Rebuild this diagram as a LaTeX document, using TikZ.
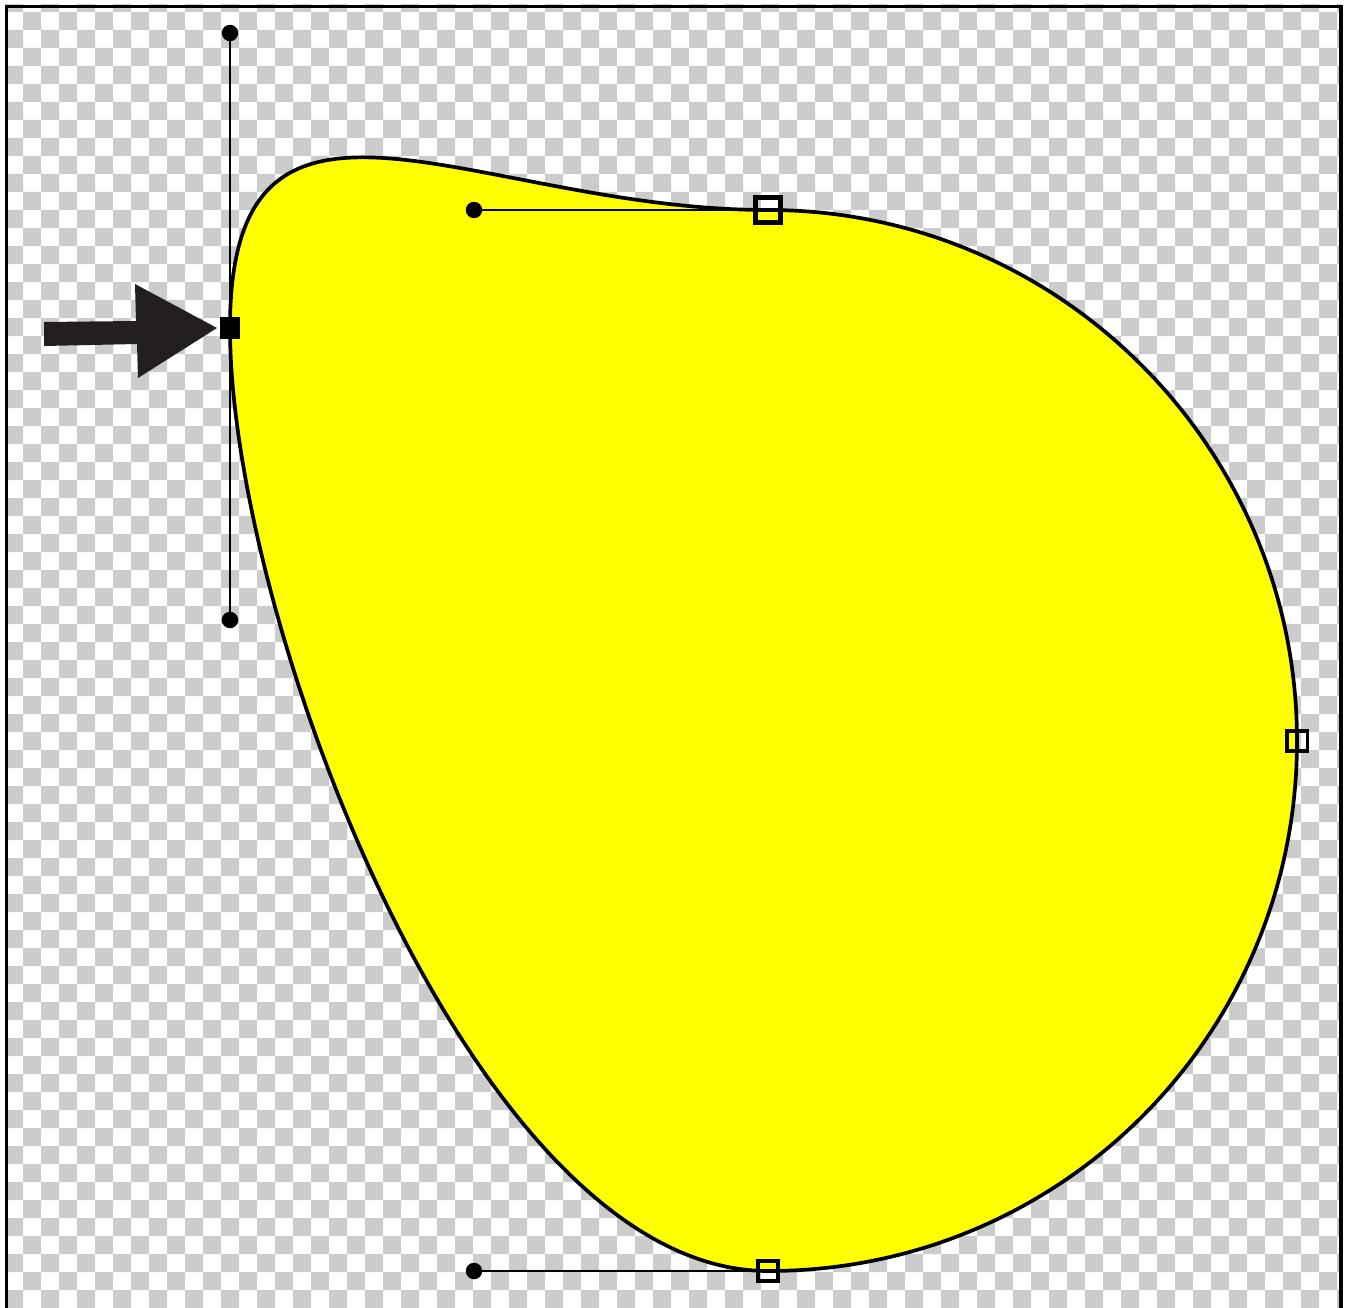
\documentclass[tikz,border=0pt]{standalone}
\usetikzlibrary{calc}
\definecolor{checkgray}{RGB}{204,204,204}
\definecolor{shapeyellow}{RGB}{255,255,0}
\definecolor{arrowdark}{RGB}{35,31,32}
\tikzset{
  outline/.style={draw=black,line width=2.1pt,line join=round},
  handleline/.style={draw=black,line width=1.3pt},
  handledot/.style={circle,fill=black,inner sep=0pt,minimum size=0.33cm},
  anchorbox/.style={rectangle,draw=black,line width=2pt,inner sep=0pt,minimum size=0.41cm},
  bigbox/.style={rectangle,draw=black,line width=3.4pt,inner sep=0pt,minimum size=0.5cm},
  selbox/.style={rectangle,fill=black,inner sep=0pt,minimum width=0.42cm,minimum height=0.44cm},
  framebar/.style={draw=black,line width=2pt}
}
\begin{document}
\begin{tikzpicture}[x=0.02cm,y=-0.02cm]
\useasboundingbox (0,0) rectangle (1350,1308);
\fill[white] (0,0) rectangle (1350,1308);
% checkerboard
\begin{scope}
\clip (5,5) rectangle (1341,1308);
\foreach \j in {0,...,73}{
  \pgfmathtruncatemacro\s{mod(\j,2)}
  \pgfmathtruncatemacro\t{\s+2}
  \fill[checkgray] \foreach \i in {\s,\t,...,74}{ (5+18*\i,-6+18*\j) rectangle ++(18,18) };
}
\end{scope}
% frame
\draw[framebar] (6.5,1308) -- (6.5,6.5) -- (1341,6.5) -- (1341,1308);
% anchor and handle coordinates
\coordinate (L) at (230,328);
\coordinate (T) at (768,210);
\coordinate (R) at (1297,741);
\coordinate (B) at (768,1271);
\coordinate (hLup) at (230,33);
\coordinate (hLdn) at (230,620);
\coordinate (hT) at (474,210);
\coordinate (hB) at (474,1271);
% shape
\path[fill=shapeyellow,outline]
  (L) .. controls (hLup) and (hT) .. (T)
      .. controls (1060,210) and (1297,448) .. (R)
      .. controls (1297,1034) and (1062,1271) .. (B)
      .. controls (hB) and (hLdn) .. (L) -- cycle;
% handles
\draw[handleline] (hLup) -- (L) -- (hLdn);
\draw[handleline] (hT) -- (T);
\draw[handleline] (hB) -- (B);
\node[handledot] (dLup) at (hLup) {};
\node[handledot] (dLdn) at (hLdn) {};
\node[handledot] (dT) at (hT) {};
\node[handledot] (dB) at (hB) {};
% anchor markers
\node[selbox] (mL) at (L) {};
\node[bigbox] (mT) at (T) {};
\node[anchorbox] (mR) at (R) {};
\node[anchorbox] (mB) at (B) {};
% arrow
\fill[arrowdark] (44,322) -- (136,321) -- (135,284) -- (217,328) -- (138,378) -- (137,344) -- (44,346) -- cycle;
\end{tikzpicture}
\end{document}
